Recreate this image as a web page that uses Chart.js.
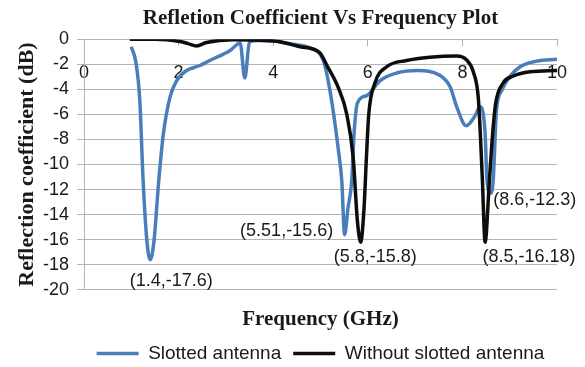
<!DOCTYPE html>
<html>
<head>
<meta charset="utf-8">
<script src="https://cdn.jsdelivr.net/npm/chart.js@4/dist/chart.umd.min.js"></script>
<style>
    body { margin: 0; background: #fff; }
</style>
</head>
<body>
<canvas id="chart" width="585" height="367"></canvas>
<script>
// frequency in GHz, reflection coefficient in dB
var freqSlotted = [1.0, 1.1, 1.18, 1.25, 1.33, 1.4, 1.48, 1.58, 1.68, 1.82, 1.96, 2.17, 2.45, 2.66, 3.09, 3.3, 3.4, 3.5, 3.7, 4.0,
    4.4, 4.78, 5.06, 5.2, 5.38, 5.45, 5.51, 5.58, 5.66, 5.71, 5.78, 5.98, 6.26, 6.61, 7.05, 7.53, 7.74, 7.88, 8.08, 8.27,
    8.37, 8.48, 8.52, 8.6, 8.65, 8.72, 8.83, 9.0, 9.22, 9.57, 10.0];
var s11Slotted = [-0.6, -1.9, -4.9, -11.3, -16.1, -17.6, -16.1, -11.3, -7.5, -4.6, -3.3, -2.5, -2.1, -1.7, -0.9, -0.3, -3.1, -0.2, -0.1, -0.15,
    -0.4, -0.7, -1.7, -4.1, -8.9, -11.3, -15.6, -13.5, -11.3, -7.5, -5.1, -4.5, -3.3, -2.7, -2.5, -2.9, -3.8, -5.4, -6.9, -6.1,
    -5.4, -7.5, -11.3, -12.3, -11.3, -5.7, -4.1, -3.0, -2.2, -1.75, -1.6];

var freqPlain = [0.97, 1.5, 2.03, 2.2, 2.38, 2.59, 3.15, 3.85, 4.14, 4.57, 4.99, 5.13, 5.38, 5.55, 5.69, 5.78, 5.85, 5.92, 5.97, 6.02,
    6.15, 6.4, 6.82, 7.31, 7.88, 8.09, 8.23, 8.34, 8.42, 8.48, 8.57, 8.63, 8.7, 8.86, 9.08, 9.43, 10.0];
var s11Plain = [0, 0, -0.19, -0.35, -0.54, -0.27, -0.05, -0.1, -0.2, -0.6, -1.1, -2.06, -3.9, -5.9, -9.4, -14.5, -16.2, -13.5, -9.5, -6.0,
    -3.5, -2.2, -1.7, -1.44, -1.34, -1.66, -2.6, -4.86, -11.0, -16.2, -11.3, -8.0, -5.2, -3.5, -2.94, -2.6, -2.5];

var seriesNames = ['Slotted antenna', 'Without slotted antenna'];

// resonance dips written on the plot
var dipFreq = [1.4, 5.51, 5.8, 8.5, 8.6];
var dipLevel = [-17.6, -15.6, -15.8, -16.18, -12.3];
var dipText = ['(1.4,-17.6)', '(5.51,-15.6)', '(5.8,-15.8)', '(8.5,-16.18)', '(8.6,-12.3)'];

var xTicks = [0, 2, 4, 6, 8, 10];
var yTicks = [0, -2, -4, -6, -8, -10, -12, -14, -16, -18, -20];

var SANS = '"Liberation Sans", Arial, sans-serif';
var SERIF = '"Liberation Serif", "Times New Roman", serif';
var TEXT = '#1a1a1a';
var GRID = '#b4b4b4';

function toPoints(xs, ys) {
    return xs.map(function (x, i) { return {x: x, y: ys[i]}; });
}

var dipLabels = {
    id: 'dipLabels',
    afterDatasetsDraw: function (chart) {
        // offset of each label from its dip, px
        var shift = [[21, 21], [-58, -4], [17, 20], [43, 15], [44, 7]];
        var ctx = chart.ctx;
        var xs = chart.scales.x;
        var ys = chart.scales.y;
        ctx.save();
        ctx.font = '18px ' + SANS;
        ctx.fillStyle = TEXT;
        ctx.textAlign = 'center';
        ctx.textBaseline = 'middle';
        dipText.forEach(function (t, i) {
            ctx.fillText(t, xs.getPixelForValue(dipFreq[i]) + shift[i][0], ys.getPixelForValue(dipLevel[i]) + shift[i][1]);
        });
        ctx.restore();
    }
};

new Chart(document.getElementById('chart'), {
    type: 'line',
    data: {
        datasets: [
            {
                label: seriesNames[0],
                data: toPoints(freqSlotted, s11Slotted),
                borderColor: '#4a7ebb',
                backgroundColor: '#4a7ebb',
                borderWidth: 3.5,
                pointRadius: 0,
                cubicInterpolationMode: 'monotone',
                order: 1
            },
            {
                label: seriesNames[1],
                data: toPoints(freqPlain, s11Plain),
                borderColor: '#0d0d0d',
                backgroundColor: '#0d0d0d',
                borderWidth: 3.5,
                pointRadius: 0,
                cubicInterpolationMode: 'monotone',
                order: 0
            }
        ]
    },
    options: {
        responsive: false,
        animation: false,
        layout: {padding: {left: 0, right: 28, top: 0, bottom: 0}},
        scales: {
            x: {
                type: 'linear',
                position: {y: 0},
                min: 0,
                max: 10,
                afterBuildTicks: function (scale) {
                    scale.ticks = xTicks.map(function (v) { return {value: v}; });
                },
                grid: {drawOnChartArea: false, color: GRID, tickLength: 6},
                border: {color: GRID},
                ticks: {font: {family: SANS, size: 18}, color: TEXT, padding: 17, maxRotation: 0}
            },
            y: {
                min: -20,
                max: 0,
                afterBuildTicks: function (scale) {
                    scale.ticks = yTicks.map(function (v) { return {value: v}; });
                },
                afterFit: function (scale) { scale.width = 84; },
                grid: {color: GRID, tickLength: 7},
                border: {color: GRID},
                ticks: {font: {family: SANS, size: 18}, color: TEXT, padding: 8},
                title: {
                    display: true,
                    text: 'Reflection coefficient (dB)',
                    font: {family: SERIF, size: 22, weight: 'bold'},
                    color: TEXT,
                    padding: {top: 14, bottom: 0}
                }
            }
        },
        plugins: {
            title: {
                display: true,
                text: 'Refletion Coefficient Vs Frequency Plot',
                fullSize: false,
                font: {family: SERIF, size: 21, weight: 'bold'},
                color: TEXT,
                padding: {top: 6, bottom: 8}
            },
            subtitle: {
                display: true,
                text: 'Frequency (GHz)',
                position: 'bottom',
                fullSize: false,
                font: {family: SERIF, size: 21, weight: 'bold'},
                color: TEXT,
                padding: {top: 17, bottom: 0}
            },
            legend: {
                position: 'bottom',
                fullSize: false,
                weight: 2000,
                maxHeight: 35,
                labels: {
                    usePointStyle: true,
                    pointStyle: 'line',
                    pointStyleWidth: 42,
                    padding: 12,
                    font: {family: SANS, size: 19},
                    color: TEXT,
                    sort: function (a, b) { return a.datasetIndex - b.datasetIndex; }
                }
            },
            tooltip: {enabled: false}
        }
    },
    plugins: [dipLabels]
});
</script>
</body>
</html>
